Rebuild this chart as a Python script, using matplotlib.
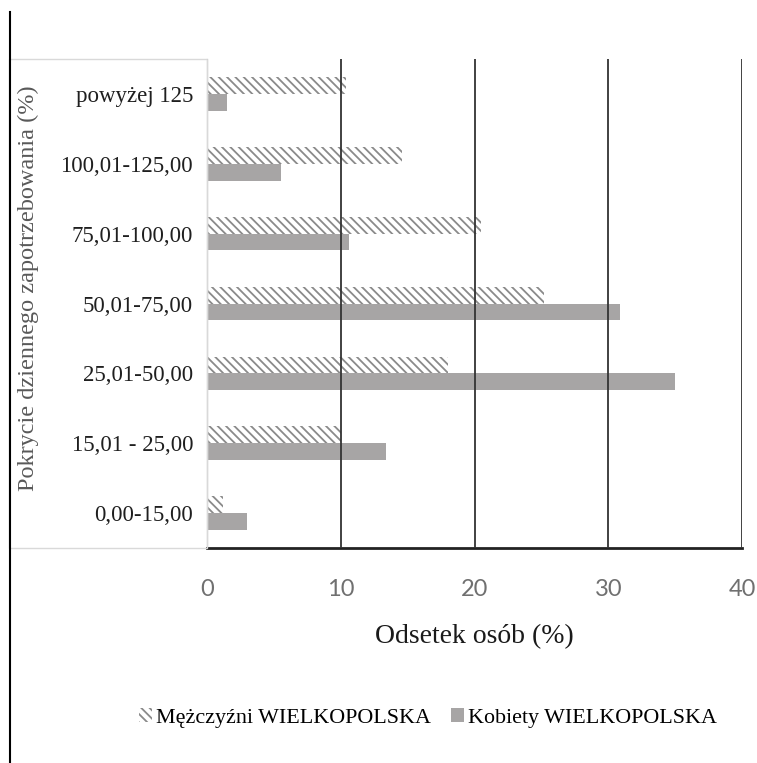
import matplotlib
matplotlib.use("Agg")
import matplotlib.pyplot as plt
from matplotlib.patches import Rectangle
from matplotlib.lines import Line2D
import numpy as np

# categories listed bottom -> top
categories = ["0,00-15,00", "15,01 - 25,00", "25,01-50,00", "50,01-75,00",
              "75,01-100,00", "100,01-125,00", "powyżej 125"]
men = [1.2, 10.0, 18.0, 25.2, 20.5, 14.6, 10.4]
women = [3.0, 13.4, 35.0, 30.9, 10.6, 5.5, 1.5]
xticks = [0, 10, 20, 30, 40]

SERIF = "Liberation Serif"
plt.rcParams["hatch.linewidth"] = 1.3

fig = plt.figure(figsize=(7.57, 7.63), dpi=100)
ax = fig.add_axes([207/757, 1 - 548/763, 535/757, 489/763])

y = np.arange(len(categories))
h = 0.24
ax.barh(y + h/2, men, height=h, facecolor="white", edgecolor="#8a8a8a",
        linewidth=0, hatch="\\\\\\\\", label="Mężczyźni WIELKOPOLSKA", zorder=1)
ax.barh(y - h/2, women, height=h, color="#a7a5a5",
        label="Kobiety WIELKOPOLSKA", zorder=1)

ax.set_xlim(0, 40)
ax.set_ylim(-0.5, len(categories) - 0.5)
ax.set_xticks(xticks)
ax.set_xticklabels([str(v) for v in xticks], family="Lato", fontsize=17,
                   color="#707070")
ax.set_yticks(y)
ax.set_yticklabels(categories, family=SERIF, fontsize=16.5, color="#1f1f1f")
ax.tick_params(axis="both", length=0)
ax.tick_params(axis="y", pad=10)
ax.tick_params(axis="x", pad=22)

ax.set_axisbelow(False)
ax.grid(axis="x", color="#333333", linewidth=1.3)
for s in ["top", "right"]:
    ax.spines[s].set_visible(False)
ax.spines["left"].set_color("#d9d9d9")
ax.spines["left"].set_linewidth(1)
ax.spines["bottom"].set_color("#222222")
ax.spines["bottom"].set_linewidth(2)

ax.set_xlabel("Odsetek osób (%)", family=SERIF, fontsize=20, color="#1a1a1a",
              labelpad=18)
fig.text(28/757, 1 - 288/763, "Pokrycie dziennego zapotrzebowania (%)",
         rotation=90, ha="center", va="center", family=SERIF, fontsize=17.5,
         color="#595959")

# label box and left border line
fig.patches.append(Rectangle((9/757, 1 - 548/763), 198/757, 489/763,
                             transform=fig.transFigure, fill=False,
                             edgecolor="#d9d9d9", linewidth=1))
fig.lines.append(Line2D([10/757, 10/757], [0, 1 - 12/763],
                        transform=fig.transFigure, color="black", linewidth=1.5))

fig.legend(loc="center", bbox_to_anchor=(428/757, 1 - 718/763), ncol=2,
           frameon=False, prop={"family": SERIF, "size": 15.8},
           handlelength=0.6, handleheight=0.6, handletextpad=0.2,
           columnspacing=0.9)

fig.savefig("out.png", dpi=100)
